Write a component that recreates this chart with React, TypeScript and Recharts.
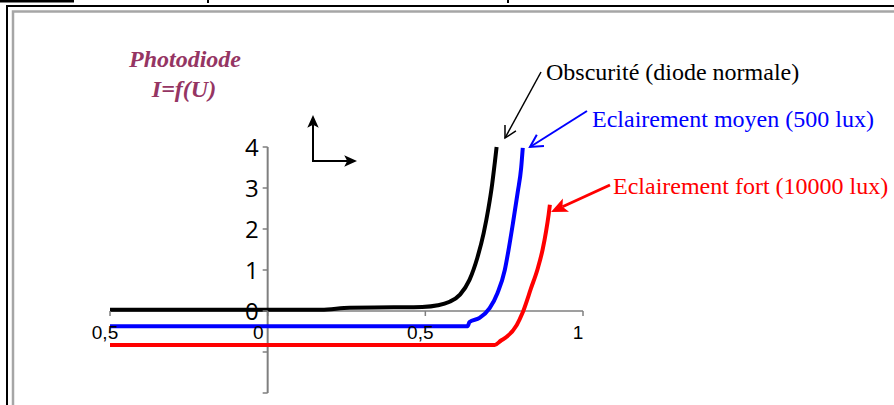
import React from 'react';
import { LineChart, Line, XAxis, YAxis, ReferenceLine, ReferenceDot } from 'recharts';

// I = f(U), U in volts, I in mA
const obscurite = [
  { u: -0.5, i: 0.03 },
  { u: 0.17, i: 0.03 },
  { u: 0.26, i: 0.08 },
  { u: 0.4, i: 0.09 },
  { u: 0.49, i: 0.1 },
  { u: 0.54, i: 0.14 },
  { u: 0.575, i: 0.22 },
  { u: 0.61, i: 0.4 },
  { u: 0.64, i: 0.76 },
  { u: 0.665, i: 1.3 },
  { u: 0.685, i: 1.9 },
  { u: 0.7, i: 2.5 },
  { u: 0.712, i: 3.1 },
  { u: 0.72, i: 3.6 },
  { u: 0.726, i: 4.0 },
];

const moyen = [
  { u: -0.5, i: -0.37 },
  { u: 0.634, i: -0.37 },
  { u: 0.64, i: -0.27 },
  { u: 0.672, i: -0.17 },
  { u: 0.704, i: 0.07 },
  { u: 0.729, i: 0.44 },
  { u: 0.752, i: 1.0 },
  { u: 0.763, i: 1.45 },
  { u: 0.778, i: 2.15 },
  { u: 0.793, i: 2.9 },
  { u: 0.804, i: 3.5 },
  { u: 0.809, i: 3.98 },
];

const fort = [
  { u: -0.5, i: -0.83 },
  { u: 0.72, i: -0.83 },
  { u: 0.74, i: -0.72 },
  { u: 0.758, i: -0.63 },
  { u: 0.79, i: -0.34 },
  { u: 0.808, i: -0.05 },
  { u: 0.835, i: 0.55 },
  { u: 0.857, i: 1.05 },
  { u: 0.872, i: 1.5 },
  { u: 0.883, i: 1.95 },
  { u: 0.891, i: 2.35 },
  { u: 0.895, i: 2.59 },
];

const xTicks = [-0.5, 0, 0.5, 1];
const yTicks = [-2, -1, 0, 1, 2, 3, 4];

const AXIS = '#7f7f7f';
const fmtX = (v: number) => String(Math.abs(v)).replace('.', ',');

function Arrow({ x1, y1, x2, y2, color, width, head, filled }: any) {
  const a = Math.atan2(y2 - y1, x2 - x1);
  const s = filled ? 0.42 : 0.5;
  const p1 = [x2 - head * Math.cos(a - s), y2 - head * Math.sin(a - s)];
  const p2 = [x2 - head * Math.cos(a + s), y2 - head * Math.sin(a + s)];
  if (filled) {
    const n = [x2 - head * 0.7 * Math.cos(a), y2 - head * 0.7 * Math.sin(a)];
    return (
      <g>
        <line x1={x1} y1={y1} x2={n[0]} y2={n[1]} stroke={color} strokeWidth={width} />
        <polygon points={`${x2},${y2} ${p1[0]},${p1[1]} ${n[0]},${n[1]} ${p2[0]},${p2[1]}`} fill={color} />
      </g>
    );
  }
  return (
    <g fill="none" stroke={color} strokeWidth={width}>
      <line x1={x1} y1={y1} x2={x2} y2={y2} />
      <polyline points={`${p1[0]},${p1[1]} ${x2},${y2} ${p2[0]},${p2[1]}`} />
    </g>
  );
}

export default function App() {
  return (
    <div style={{ position: 'absolute', left: 0, top: 0, width: 894, height: 405, background: '#fff', overflow: 'hidden' }}>
      <LineChart width={894} height={405} margin={{ top: 147, right: 311, bottom: 12, left: 110 }}>
        <XAxis type="number" dataKey="u" domain={[-0.5, 1]} hide />
        <YAxis type="number" dataKey="i" domain={[-2, 4]} hide />
        <ReferenceLine y={0} stroke={AXIS} strokeWidth={1.5} />
        <ReferenceLine x={0} stroke={AXIS} strokeWidth={2} />
        {xTicks.map((v) => (
          <ReferenceDot
            key={'x' + v}
            x={v}
            y={0}
            shape={(p: any) => (
              <g>
                <line x1={p.cx} y1={p.cy} x2={p.cx} y2={p.cy + 5} stroke={AXIS} strokeWidth={1.5} />
                <text
                  x={v === 0 ? p.cx - 4 : p.cx - 5}
                  y={p.cy + 28}
                  textAnchor={v === 0 ? 'end' : 'middle'}
                  fontFamily="Liberation Sans, Arial"
                  fontSize={19}
                  fill="#000"
                >
                  {fmtX(v)}
                </text>
              </g>
            )}
          />
        ))}
        {yTicks.map((v) => (
          <ReferenceDot
            key={'y' + v}
            x={0}
            y={v}
            shape={(p: any) => (
              <g>
                <line x1={p.cx - 5} y1={p.cy} x2={p.cx} y2={p.cy} stroke={AXIS} strokeWidth={1.5} />
                {v >= 0 && (
                  <text x={p.cx - 9} y={p.cy + 8.5} textAnchor="end" fontFamily="Open Sans" fontSize={24} fill="#000">
                    {v}
                  </text>
                )}
              </g>
            )}
          />
        ))}
        <Line data={fort} dataKey="i" type="monotone" stroke="#ff0000" strokeWidth={4} dot={false} isAnimationActive={false} />
        <Line data={moyen} dataKey="i" type="monotone" stroke="#0000ff" strokeWidth={4} dot={false} isAnimationActive={false} />
        <Line data={obscurite} dataKey="i" type="monotone" stroke="#000000" strokeWidth={4} dot={false} isAnimationActive={false} />
      </LineChart>

      <svg width={894} height={405} style={{ position: 'absolute', left: 0, top: 0, pointerEvents: 'none' }}>
        {/* page frame */}
        <rect x={0} y={0} width={74} height={2.5} fill="#000" />
        <rect x={207} y={0} width={2} height={3} fill="#000" />
        <rect x={507} y={0} width={2} height={3} fill="#000" />
        <polyline points="7,405 7,6 894,6" fill="none" stroke="#000" strokeWidth={2} />
        <polyline points="13,405 13,11.5 894,11.5" fill="none" stroke="#a6a6a6" strokeWidth={2.5} />

        <g fontFamily="Liberation Serif, Times New Roman" fontWeight="bold" fontStyle="italic" fontSize={24} fill="#953563" textAnchor="middle">
          <text x={185} y={67}>Photodiode</text>
          <text x={184} y={97}>I=f(U)</text>
        </g>

        <Arrow x1={313} y1={161} x2={313} y2={115} color="#000" width={2} head={14} filled />
        <Arrow x1={312} y1={161} x2={357} y2={161} color="#000" width={2} head={14} filled />

        <g fontFamily="Liberation Serif, Times New Roman" fontSize={24}>
          <text x={546} y={80} fill="#000">Obscurité (diode normale)</text>
          <text x={592} y={127} fill="#0000ff">Eclairement moyen (500 lux)</text>
          <text x={613} y={194} fill="#ff0000">Eclairement fort (10000 lux)</text>
        </g>
        <Arrow x1={541} y1={72} x2={505} y2={138} color="#000" width={1.5} head={13} />
        <Arrow x1={587} y1={111} x2={530} y2={147} color="#0000ff" width={2} head={14} />
        <Arrow x1={610} y1={185} x2={551} y2={212} color="#ff0000" width={3} head={18} filled />
      </svg>
    </div>
  );
}
